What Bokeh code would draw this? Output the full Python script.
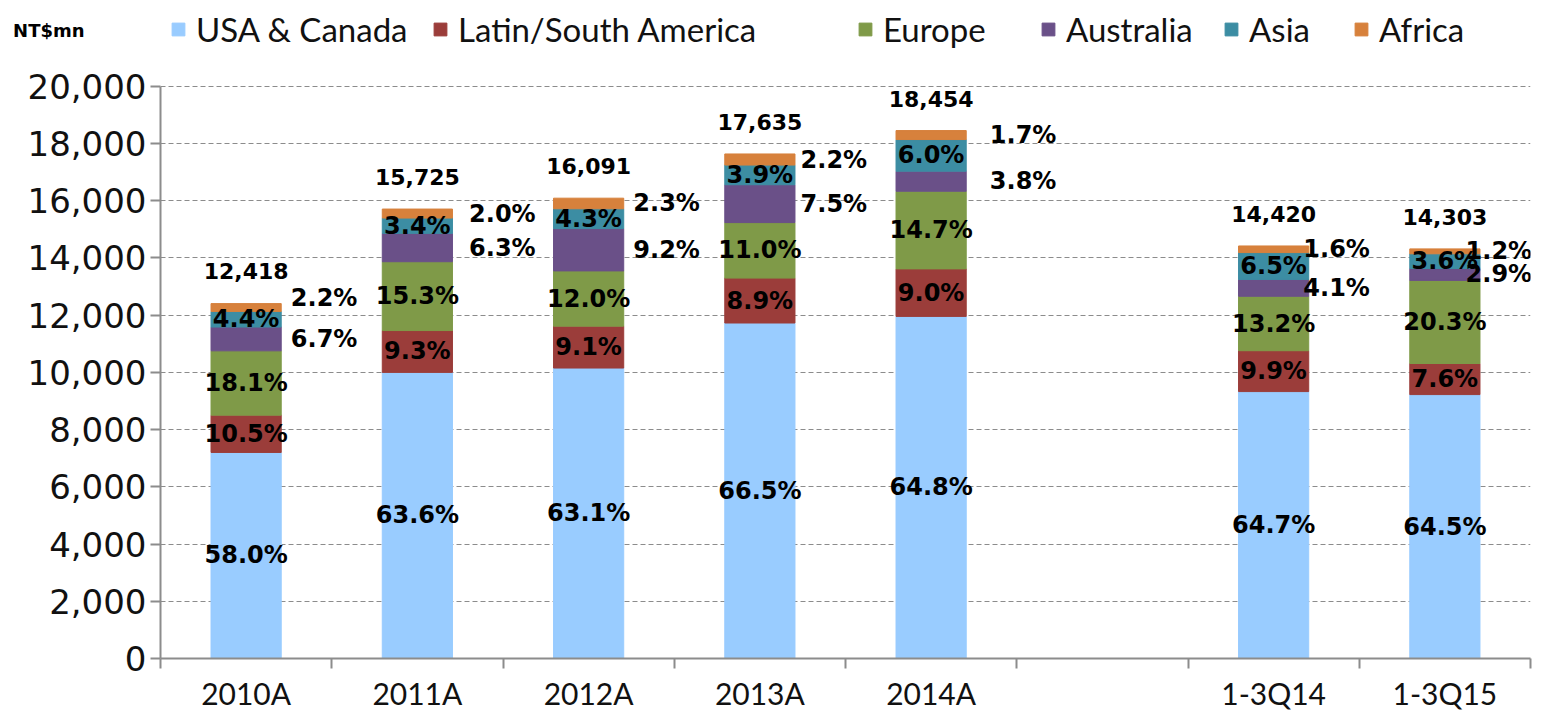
from bokeh.plotting import figure
from bokeh.models import (FactorRange, Range1d, LinearAxis, CategoricalAxis, FixedTicker,
                          SingleIntervalTicker, NumeralTickFormatter, Legend, LegendItem,
                          ColumnDataSource)
from bokeh.core.properties import value
from bokeh.embed import file_html
from bokeh.resources import INLINE

# ---------------- data ----------------
axis_categories = ["2010A", "2011A", "2012A", "2013A", "2014A", " ", "1-3Q14", "1-3Q15"]
categories = ["2010A", "2011A", "2012A", "2013A", "2014A", "1-3Q14", "1-3Q15"]
series_names = ["USA & Canada", "Latin/South America", "Europe", "Australia", "Asia", "Africa"]

usa = [7202, 10001, 10153, 11727, 11958, 9330, 9225]
latam = [1304, 1462, 1464, 1570, 1661, 1428, 1087]
europe = [2248, 2406, 1931, 1940, 2713, 1903, 2904]
australia = [832, 991, 1480, 1323, 701, 591, 415]
asia = [546, 535, 692, 688, 1107, 937, 515]
africa = [273, 315, 370, 388, 314, 231, 172]
totals = [12418, 15725, 16091, 17635, 18454, 14420, 14303]

usa_pct = ["58.0%", "63.6%", "63.1%", "66.5%", "64.8%", "64.7%", "64.5%"]
latam_pct = ["10.5%", "9.3%", "9.1%", "8.9%", "9.0%", "9.9%", "7.6%"]
europe_pct = ["18.1%", "15.3%", "12.0%", "11.0%", "14.7%", "13.2%", "20.3%"]
australia_pct = ["6.7%", "6.3%", "9.2%", "7.5%", "3.8%", "4.1%", "2.9%"]
asia_pct = ["4.4%", "3.4%", "4.3%", "3.9%", "6.0%", "6.5%", "3.6%"]
africa_pct = ["2.2%", "2.0%", "2.3%", "2.2%", "1.7%", "1.6%", "1.2%"]
total_labels = ["12,418", "15,725", "16,091", "17,635", "18,454", "14,420", "14,303"]

y_axis_max = 20000
y_ticks_interval = 2000
unit_label = "NT$mn"

# ---------------- styles ----------------
colors = ["#99CCFF", "#9B3D3A", "#7F9A48", "#6A5088", "#3C8DA3", "#D7813C"]
grid_color = "#8c8c8c"
axis_color = "#8c8c8c"
label_font = "DejaVu Sans"
cat_font = "Lato"

series_keys = ["usa", "latam", "europe", "australia", "asia", "africa"]
src = ColumnDataSource(dict(cat=categories, usa=usa, latam=latam, europe=europe,
                            australia=australia, asia=asia, africa=africa))

# frame reaches the top of the canvas so that the legend can sit inside it
p = figure(x_range=FactorRange(factors=axis_categories, range_padding=0),
           y_range=Range1d(0, 23000),
           width=1540, height=716, output_backend="svg", toolbar_location=None,
           x_axis_location=None, y_axis_location="left",
           min_border_left=160, min_border_right=10, min_border_top=0, min_border_bottom=58)
p.outline_line_color = None
p.background_fill_color = "white"
p.border_fill_color = "white"

renderers = p.vbar_stack(series_keys, x="cat", width=0.41, color=colors, source=src)

# x axis: boundary ticks between the categories, labels on a categorical axis
tick_axis = LinearAxis(ticker=FixedTicker(ticks=list(range(len(axis_categories) + 1))),
                       major_label_overrides={i: "" for i in range(len(axis_categories) + 1)},
                       major_label_text_font_size="10px", major_label_standoff=-12,
                       major_tick_out=10, major_tick_in=0,
                       major_tick_line_color=axis_color, major_tick_line_width=2,
                       minor_tick_line_color=None,
                       axis_line_color=axis_color, axis_line_width=2)
p.add_layout(tick_axis, "below")
cat_axis = CategoricalAxis(axis_line_color=None, major_tick_line_color=None,
                           major_label_text_font=cat_font, major_label_text_font_size="30px",
                           major_label_text_color="#111111", major_label_standoff=0)
p.add_layout(cat_axis, "below")

# y axis
yax = p.yaxis[0]
yax.bounds = (0, y_axis_max)
yax.ticker = SingleIntervalTicker(interval=y_ticks_interval)
yax.formatter = NumeralTickFormatter(format="0,0")
yax.major_label_text_font = label_font
yax.major_label_text_font_size = "34px"
yax.major_label_text_color = "#111111"
yax.major_tick_out = 10
yax.major_tick_in = 0
yax.major_tick_line_color = axis_color
yax.major_tick_line_width = 2
yax.minor_tick_line_color = None
yax.axis_line_color = axis_color
yax.axis_line_width = 2
yax.major_label_standoff = 4

# unit caption: single tick label of a second, invisible left axis, above the plot area
unit_pos = 21950
unit_axis = LinearAxis(ticker=FixedTicker(ticks=[unit_pos]),
                       major_label_overrides={unit_pos: unit_label},
                       axis_line_color=None, major_tick_line_color=None,
                       minor_tick_line_color=None, major_tick_out=0, major_tick_in=0,
                       major_label_standoff=-60,
                       major_label_text_font=label_font, major_label_text_font_style="bold",
                       major_label_text_font_size="18px", major_label_text_color="black")
p.add_layout(unit_axis, "left")

p.xgrid.grid_line_color = None
p.ygrid.bounds = (0, y_axis_max)
p.ygrid.ticker = SingleIntervalTicker(interval=y_ticks_interval)
p.ygrid.grid_line_color = grid_color
p.ygrid.grid_line_dash = "5 3"
p.ygrid.grid_line_width = 1

# ---------------- labels ----------------
seg_lists = [usa, latam, europe, australia, asia, africa]
pct_lists = [usa_pct, latam_pct, europe_pct, australia_pct, asia_pct, africa_pct]
bottoms = [0] * len(categories)
mids = []
for seg in seg_lists:
    mids.append([b + v / 2 for b, v in zip(bottoms, seg)])
    bottoms = [b + v for b, v in zip(bottoms, seg)]

inside_x, inside_y, inside_t = [], [], []
for k in [0, 1, 2, 4]:
    inside_x += categories
    inside_y += mids[k]
    inside_t += pct_lists[k]
p.text(x=inside_x, y=inside_y, text=inside_t, text_align="center", text_baseline="middle",
       text_font=value(label_font), text_font_style="bold", text_font_size="24px",
       text_color="black")

right_dx = [78, 85, 78, 74, 92, 63, 54]
africa_dy = [-10, 0, 0, 0, 0, 0, 0]
p.text(x=categories + categories, y=mids[3] + mids[5], text=australia_pct + africa_pct,
       x_offset=right_dx + right_dx, y_offset=[0] * len(categories) + africa_dy,
       text_align="center", text_baseline="middle",
       text_font=value(label_font), text_font_style="bold", text_font_size="24px",
       text_color="black")

p.text(x=categories, y=totals, text=total_labels, y_offset=-32,
       text_align="center", text_baseline="middle",
       text_font=value(label_font), text_font_style="bold", text_font_size="22px",
       text_color="black")

# ---------------- legend ----------------
legend_x = [10, 272, 697, 880, 1063, 1193]
for i, (name, r) in enumerate(zip(series_names, renderers)):
    lg = Legend(items=[LegendItem(label=name, renderers=[r])], location=(legend_x[i], 609),
                orientation="horizontal", glyph_width=16, glyph_height=16, label_standoff=10,
                padding=0, margin=0, border_line_color=None, background_fill_alpha=0,
                label_text_font=cat_font, label_text_font_size="33px",
                label_text_color="#111111")
    p.add_layout(lg)

open("out.html", "w").write(file_html(p, INLINE))
